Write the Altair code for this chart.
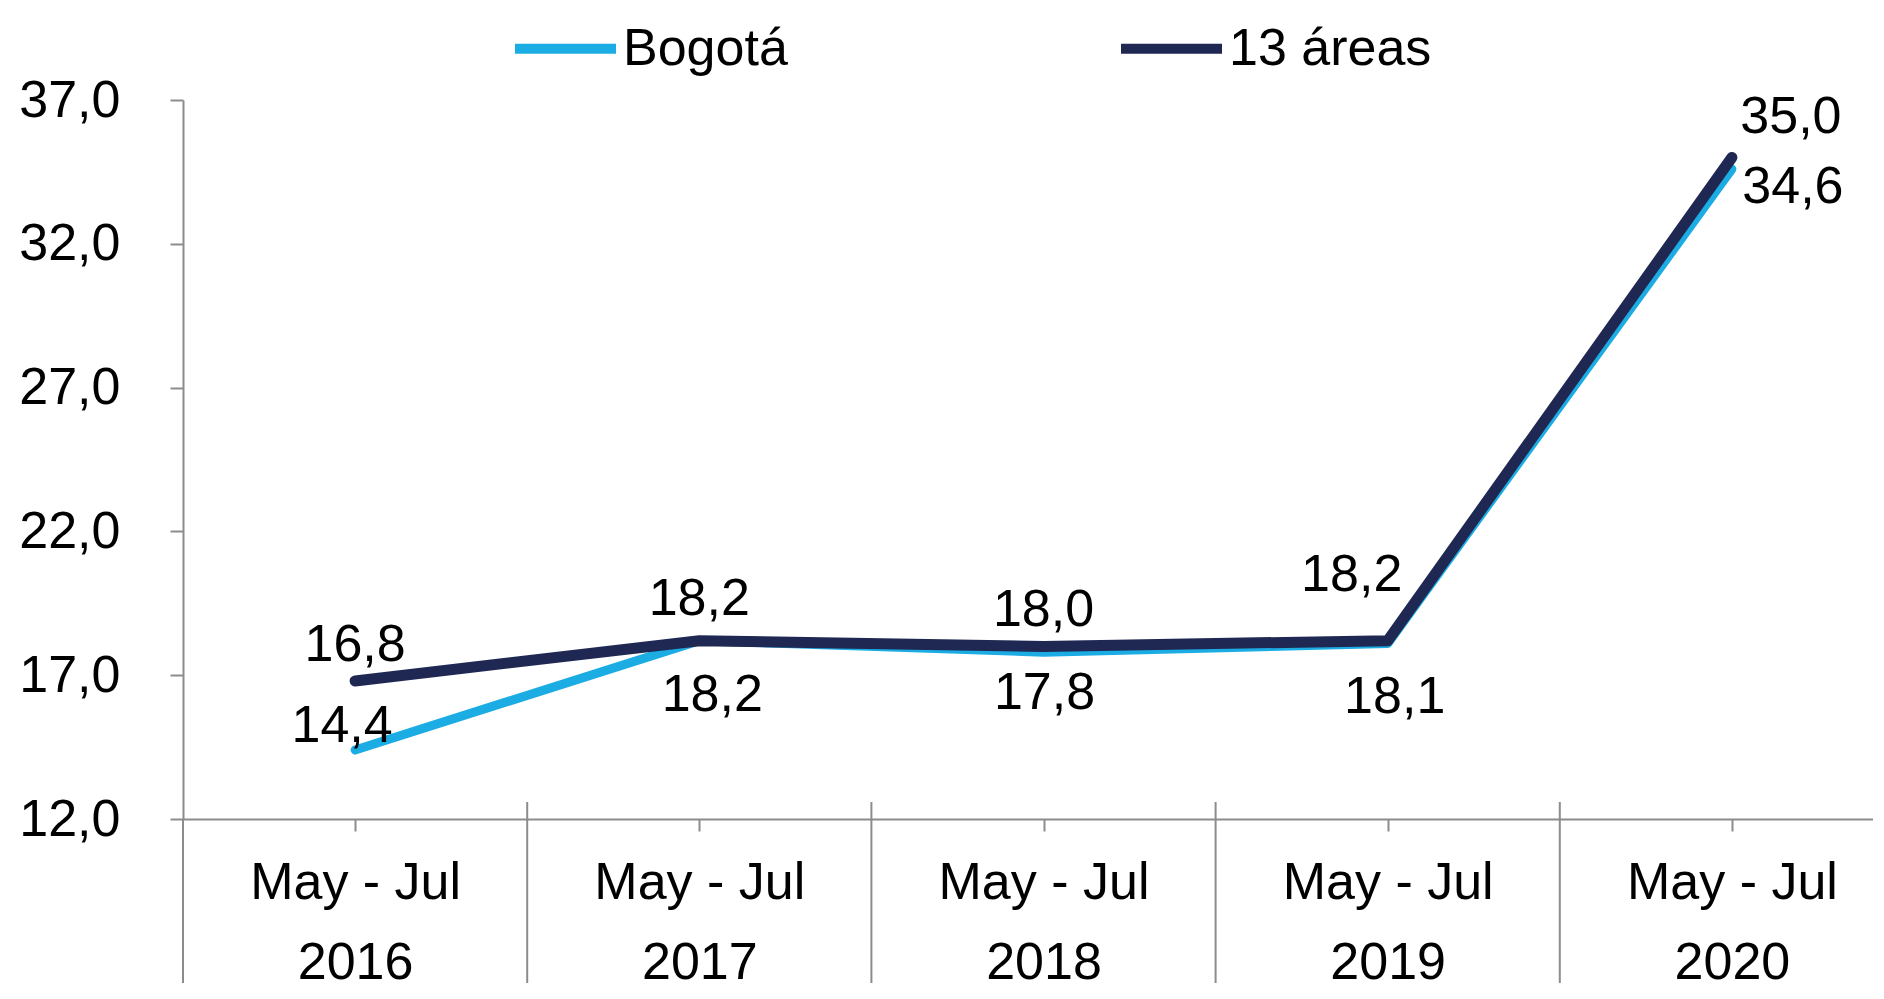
import json
import altair as alt
import pandas as pd

# ---- data ----
periods = ["May - Jul", "May - Jul", "May - Jul", "May - Jul", "May - Jul"]
years = ["2016", "2017", "2018", "2019", "2020"]
bogota = [14.4, 18.2, 17.8, 18.1, 34.6]
areas13 = [16.8, 18.2, 18.0, 18.2, 35.0]
series_names = ["Bogotá", "13 áreas"]
y_ticks = [12, 17, 22, 27, 32, 37]

rows = []
for i, v in enumerate(bogota):
    rows.append({"idx": i, "serie": series_names[0], "valor": v})
for i, v in enumerate(areas13):
    rows.append({"idx": i, "serie": series_names[1], "valor": v})
df = pd.DataFrame(rows)

sep_df = pd.DataFrame({"b": [i + 0.5 for i in range(len(years) - 1)]})
left_df = pd.DataFrame({"b": [-0.5]})

# ---- styling ----
FONT = "Liberation Sans"
FS = 52
GRAY = "#8c8c8c"
W, H = 1690, 719
BAND = 344.2
x_max = -0.5 + W / BAND

x_scale = alt.Scale(domain=[-0.5, x_max], nice=False, zero=False)
y_scale = alt.Scale(domain=[12, 37], nice=False, zero=False)
color_scale = alt.Scale(domain=series_names, range=["#1BACE4", "#1F2852"])

label_expr = "[" + json.dumps(periods) + "[datum.value], " + json.dumps(years) + "[datum.value]]"

x_axis = alt.Axis(
    values=list(range(len(years))), labelExpr=label_expr, title=None, grid=False,
    tickSize=12, tickColor=GRAY, tickWidth=2, domainColor=GRAY, domainWidth=2,
    labelFont=FONT, labelFontSize=FS, labelColor="black", labelPadding=26,
    labelLineHeight=80, labelFlush=False, labelOverlap=False, labelLimit=500,
)
y_axis = alt.Axis(
    values=y_ticks, labelExpr="replace(format(datum.value, '.1f'), '.', ',')",
    title=None, grid=False, tickSize=13, tickColor=GRAY, tickWidth=2,
    domainColor=GRAY, domainWidth=2, labelFont=FONT, labelFontSize=FS,
    labelColor="black", labelPadding=50,
)
legend = alt.Legend(
    title=None, orient="none", legendX=327, legendY=-107, direction="horizontal",
    symbolType="stroke", symbolSize=10200, symbolStrokeWidth=10,
    labelFont=FONT, labelFontSize=FS, labelColor="black", labelLimit=500,
    labelOffset=2, columnPadding=313,
)

base = alt.Chart(df)
X = alt.X("idx:Q", scale=x_scale, axis=x_axis)
Y = alt.Y("valor:Q", scale=y_scale, axis=y_axis)
C = alt.Color("serie:N", scale=color_scale, legend=legend)

line_b = base.transform_filter(alt.datum.serie == series_names[0]).mark_line(
    strokeWidth=9, strokeJoin="round", strokeCap="round").encode(x=X, y=Y, color=C)
line_a = base.transform_filter(alt.datum.serie == series_names[1]).mark_line(
    strokeWidth=11, strokeJoin="round", strokeCap="round").encode(x=X, y=Y, color=C)

seps = alt.Chart(sep_df).mark_rule(color=GRAY, strokeWidth=2).encode(
    x=alt.X("b:Q", scale=x_scale), y=alt.value(H - 17), y2=alt.value(H + 200))
left_ext = alt.Chart(left_df).mark_rule(color=GRAY, strokeWidth=2).encode(
    x=alt.X("b:Q", scale=x_scale), y=alt.value(H), y2=alt.value(H + 200))

# label offsets (dx, dy) per series / period
offsets = {
    series_names[1]: [(0, -36), (0, -42), (0, -36), (-36, -66), (59, -41)],
    series_names[0]: [(-13, -24), (13, 54), (1, 41), (7, 53), (61, 18)],
}
labels = []
for s, offs in offsets.items():
    for i, (dx, dy) in enumerate(offs):
        t = base.transform_filter(
            (alt.datum.serie == s) & (alt.datum.idx == i)
        ).transform_calculate(
            lab="replace(format(datum.valor, '.1f'), '.', ',')"
        ).mark_text(
            font=FONT, fontSize=FS, color="black", align="center",
            baseline="middle", dx=dx, dy=dy,
        ).encode(x=X, y=Y, text="lab:N")
        labels.append(t)

chart = alt.layer(seps, left_ext, line_b, line_a, *labels).properties(
    width=W, height=H,
    padding={"left": 175, "top": 92, "right": 0, "bottom": 164},
    autosize=alt.AutoSizeParams(type="none"),
).configure_view(stroke=None)

chart.save("out.html", embed_options={"renderer": "svg", "actions": False})
